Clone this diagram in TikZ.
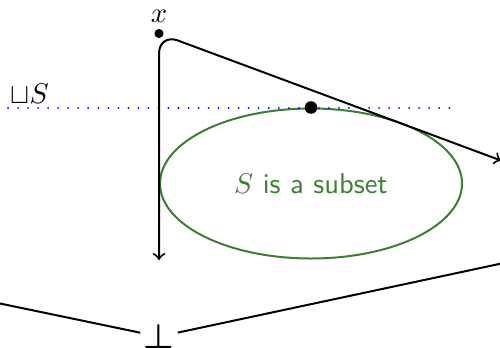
\documentclass[tikz,border=0pt]{standalone}
\usepackage{amsmath}
\usetikzlibrary{shapes.geometric}
\definecolor{setgreen}{RGB}{58,128,48}
\begin{document}
\begin{tikzpicture}[x=0.35pt,y=-0.35pt,
  blk/.style={line width=0.7pt},
  dotnode/.style={circle,fill,inner sep=0pt},
  bluedots/.style={blue,line width=0.7pt,dash pattern=on 0.01pt off 3.5pt,line cap=round}]
\useasboundingbox (0,0) rectangle (500,347);
\clip (0,0) rectangle (500,347);
% set
\node[draw=setgreen,text=setgreen,line width=0.7pt,ellipse,inner sep=0pt,
      minimum width=105.7pt,minimum height=52.5pt] (S) at (311,183.5)
      {$S$ \textsf{is a subset}};
% supremum line
\coordinate (l1) at (8,108);
\coordinate (l2) at (456,108);
\draw[bluedots] (l1) -- (l2);
\node[anchor=base west,inner sep=0pt] (sup) at (10,103) {$\sqcup S$};
\node[dotnode,minimum size=4.4pt] (t) at (S.north) {};
% point x
\node[dotnode,minimum size=3.2pt,label={[label distance=-1.4pt]above:$x$}] (x) at (159,33.5) {};
\coordinate (down) at (159,260);
\coordinate (right) at (501,160.5);
\draw[blk,<->,rounded corners=7pt] (down) -- (x.center) -- (right);
% bottom
\node[anchor=base,inner sep=1pt,font=\large] (bot) at (159,348.5) {$\boldsymbol{\bot}$};
\coordinate (a) at (-60,291);
\coordinate (b) at (560,251);
\draw[blk] (a) -- (bot);
\draw[blk] (bot) -- (b);
\end{tikzpicture}
\end{document}
